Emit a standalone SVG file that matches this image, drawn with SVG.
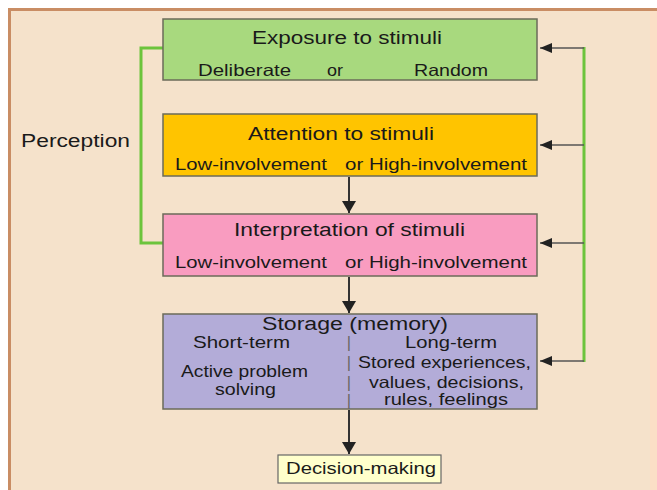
<svg xmlns="http://www.w3.org/2000/svg" width="657" height="490" viewBox="0 0 657 490">
<defs>
<style>
text{font-family:"Liberation Sans",Arial,sans-serif;fill:#1a1a1a;}
.t{font-size:18px;}
.s{font-size:16.5px;}
.box{stroke:#6b6b5a;stroke-width:1.5;}
.arr{stroke:#333;stroke-width:2;fill:none;}
.fb{stroke:#555;stroke-width:1.3;fill:none;}
.gr{stroke:#6cc43c;stroke-width:3;fill:none;}
.dv{fill:#666;font-size:16.5px;text-anchor:middle;}
</style>
<marker id="ah" viewBox="0 0 12 14" refX="12" refY="7" markerWidth="12" markerHeight="14" orient="auto" markerUnits="userSpaceOnUse">
<path d="M0,0 L12,7 L0,14 z" fill="#222"/>
</marker>
<marker id="ah2" viewBox="0 0 12 10" refX="12" refY="5" markerWidth="12" markerHeight="10" orient="auto" markerUnits="userSpaceOnUse">
<path d="M0,0 L12,5 L0,10 z" fill="#222"/>
</marker>
</defs>
<rect x="0" y="0" width="657" height="490" fill="#ffffff"/>
<rect x="9.5" y="9.5" width="660" height="490" fill="#f5e2cb" stroke="#c98d64" stroke-width="3"/>
<rect x="650" y="11" width="7" height="479" fill="#fbdfc6"/>

<g id="connectors">
<polyline class="gr" points="163,48 141,48 141,243 163,243"/>
<line class="gr" x1="584" y1="47" x2="584" y2="362"/>
<line class="fb" x1="584" y1="48" x2="540" y2="48" marker-end="url(#ah2)"/>
<line class="fb" x1="584" y1="145" x2="540" y2="145" marker-end="url(#ah2)"/>
<line class="fb" x1="584" y1="243" x2="540" y2="243" marker-end="url(#ah2)"/>
<line class="fb" x1="584" y1="361" x2="540" y2="361" marker-end="url(#ah2)"/>
<line class="arr" x1="349" y1="177" x2="349" y2="213"  marker-end="url(#ah)"/>
<line class="arr" x1="349" y1="277" x2="349" y2="313" marker-end="url(#ah)"/>
<line class="arr" x1="349" y1="410" x2="349" y2="454" marker-end="url(#ah)"/>
</g>

<g id="perception">
<text x="21" y="147" class="t" textLength="109" lengthAdjust="spacingAndGlyphs">Perception</text>
</g>

<g id="exposure">
<rect class="box" x="163" y="19" width="374" height="61" fill="#a8d97e"/>
<text x="252" y="44" class="t" textLength="190" lengthAdjust="spacingAndGlyphs">Exposure to stimuli</text>
<text x="198" y="76" class="s" textLength="93" lengthAdjust="spacingAndGlyphs">Deliberate</text>
<text x="327" y="76" class="s" textLength="16" lengthAdjust="spacingAndGlyphs">or</text>
<text x="414" y="76" class="s" textLength="74" lengthAdjust="spacingAndGlyphs">Random</text>
</g>

<g id="attention">
<rect class="box" x="163" y="114" width="374" height="62" fill="#ffc400"/>
<text x="248" y="140" class="t" textLength="186" lengthAdjust="spacingAndGlyphs">Attention to stimuli</text>
<text x="175" y="170" class="s" textLength="152" lengthAdjust="spacingAndGlyphs">Low-involvement</text>
<text x="345" y="170" class="s" textLength="182" lengthAdjust="spacingAndGlyphs">or High-involvement</text>
</g>

<g id="interpretation">
<rect class="box" x="163" y="214" width="374" height="62" fill="#f99cc0"/>
<text x="234" y="236" class="t" textLength="231" lengthAdjust="spacingAndGlyphs">Interpretation of stimuli</text>
<text x="175" y="268" class="s" textLength="152" lengthAdjust="spacingAndGlyphs">Low-involvement</text>
<text x="345" y="268" class="s" textLength="182" lengthAdjust="spacingAndGlyphs">or High-involvement</text>
</g>

<g id="storage">
<rect class="box" x="163" y="314" width="374" height="95" fill="#b3acd8"/>
<text x="262" y="330" class="t" textLength="186" lengthAdjust="spacingAndGlyphs">Storage (memory)</text>
<text x="193" y="348" class="s" textLength="97" lengthAdjust="spacingAndGlyphs">Short-term</text>
<text x="405" y="348" class="s" textLength="92" lengthAdjust="spacingAndGlyphs">Long-term</text>
<text x="349" y="348" class="dv">|</text>
<text x="349" y="368" class="dv">|</text>
<text x="349" y="388" class="dv">|</text>
<text x="349" y="406" class="dv">|</text>
<text x="181" y="377" class="s" textLength="127" lengthAdjust="spacingAndGlyphs">Active problem</text>
<text x="215" y="395" class="s" textLength="61" lengthAdjust="spacingAndGlyphs">solving</text>
<text x="358" y="368" class="s" textLength="173" lengthAdjust="spacingAndGlyphs">Stored experiences,</text>
<text x="369" y="388" class="s" textLength="155" lengthAdjust="spacingAndGlyphs">values, decisions,</text>
<text x="384" y="405" class="s" textLength="124" lengthAdjust="spacingAndGlyphs">rules, feelings</text>
</g>

<g id="decision">
<rect x="278" y="455" width="163" height="28" fill="#ffffcc" stroke="#666" stroke-width="1.2"/>
<text x="286" y="474" class="s" textLength="150" lengthAdjust="spacingAndGlyphs">Decision-making</text>
</g>
</svg>
